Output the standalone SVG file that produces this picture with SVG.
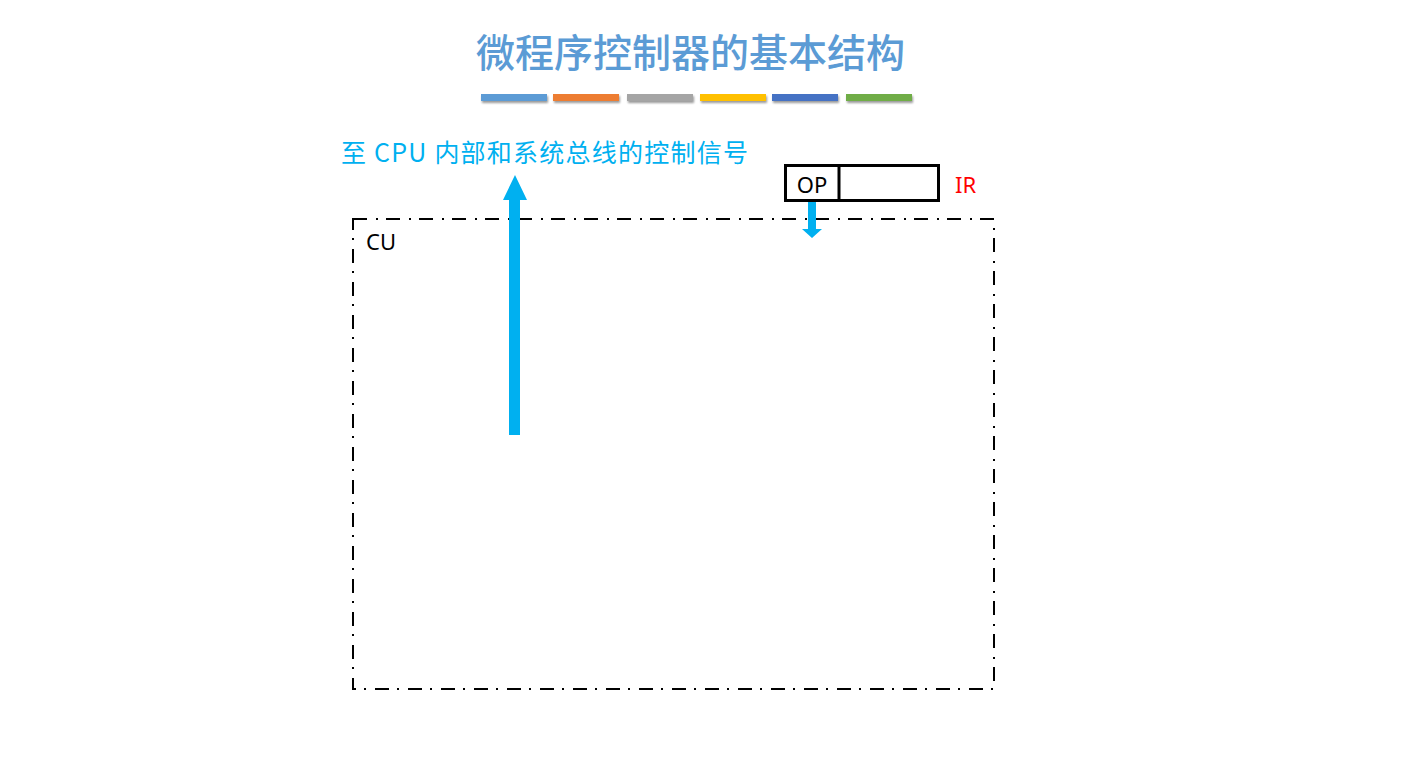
<svg xmlns="http://www.w3.org/2000/svg" width="1409" height="784" viewBox="0 0 1409 784">
<defs>
<style>
.cjk{font-family:"Noto Sans CJK SC","Noto Sans",sans-serif}
.lat{font-family:"Noto Sans","Liberation Sans","Noto Sans CJK SC",sans-serif}
.bar{filter:url(#sh)}
</style>
<filter id="sh" x="-10%" y="-50%" width="120%" height="250%">
<feGaussianBlur in="SourceAlpha" stdDeviation="1.2"/>
<feOffset dx="1" dy="2" result="b"/>
<feComponentTransfer><feFuncA type="linear" slope="0.4"/></feComponentTransfer>
<feMerge><feMergeNode/><feMergeNode in="SourceGraphic"/></feMerge>
</filter>
</defs>
<rect width="1409" height="784" fill="#ffffff"/>
<g id="title">
<text class="cjk" x="476" y="67" font-size="39" font-weight="500" fill="#5b9bd5" textLength="429" lengthAdjust="spacing">微程序控制器的基本结构</text>
<rect class="bar" x="481" y="94" width="66" height="7" fill="#5b9bd5"/>
<rect class="bar" x="553" y="94" width="66" height="7" fill="#ed7d31"/>
<rect class="bar" x="627" y="94" width="66" height="7" fill="#a5a5a5"/>
<rect class="bar" x="700" y="94" width="66" height="7" fill="#ffc000"/>
<rect class="bar" x="772" y="94" width="66" height="7" fill="#4472c4"/>
<rect class="bar" x="846" y="94" width="66" height="7" fill="#70ad47"/>
</g>
<g id="signal-label">
<text class="cjk" x="341" y="162" font-size="25" fill="#00b0f0" textLength="407" lengthAdjust="spacing">至 CPU 内部和系统总线的控制信号</text>
</g>
<g id="cu">
<rect x="353" y="219" width="641" height="470" fill="none" stroke="#000" stroke-width="2" stroke-dasharray="14 9 2 8"/>
<text class="lat" x="366" y="250" font-size="22" fill="#000">CU</text>
</g>
<g id="ir">
<rect x="785.5" y="165.5" width="153" height="35" fill="#fff" stroke="#000" stroke-width="3"/>
<line x1="839" y1="165" x2="839" y2="201" stroke="#000" stroke-width="3"/>
<text class="lat" x="812" y="193" font-size="22" fill="#000" text-anchor="middle">OP</text>
<text class="lat" x="955" y="193" font-size="22" fill="#ff0000">IR</text>
</g>
<g id="connectors">
<polygon points="509,435 520,435 520,200 527,200 515,175 503,200 509,200" fill="#00b0f0"/>
<polygon points="808,202 816,202 816,229 822,229 812,238 802,229 808,229" fill="#00b0f0"/>
</g>
</svg>
